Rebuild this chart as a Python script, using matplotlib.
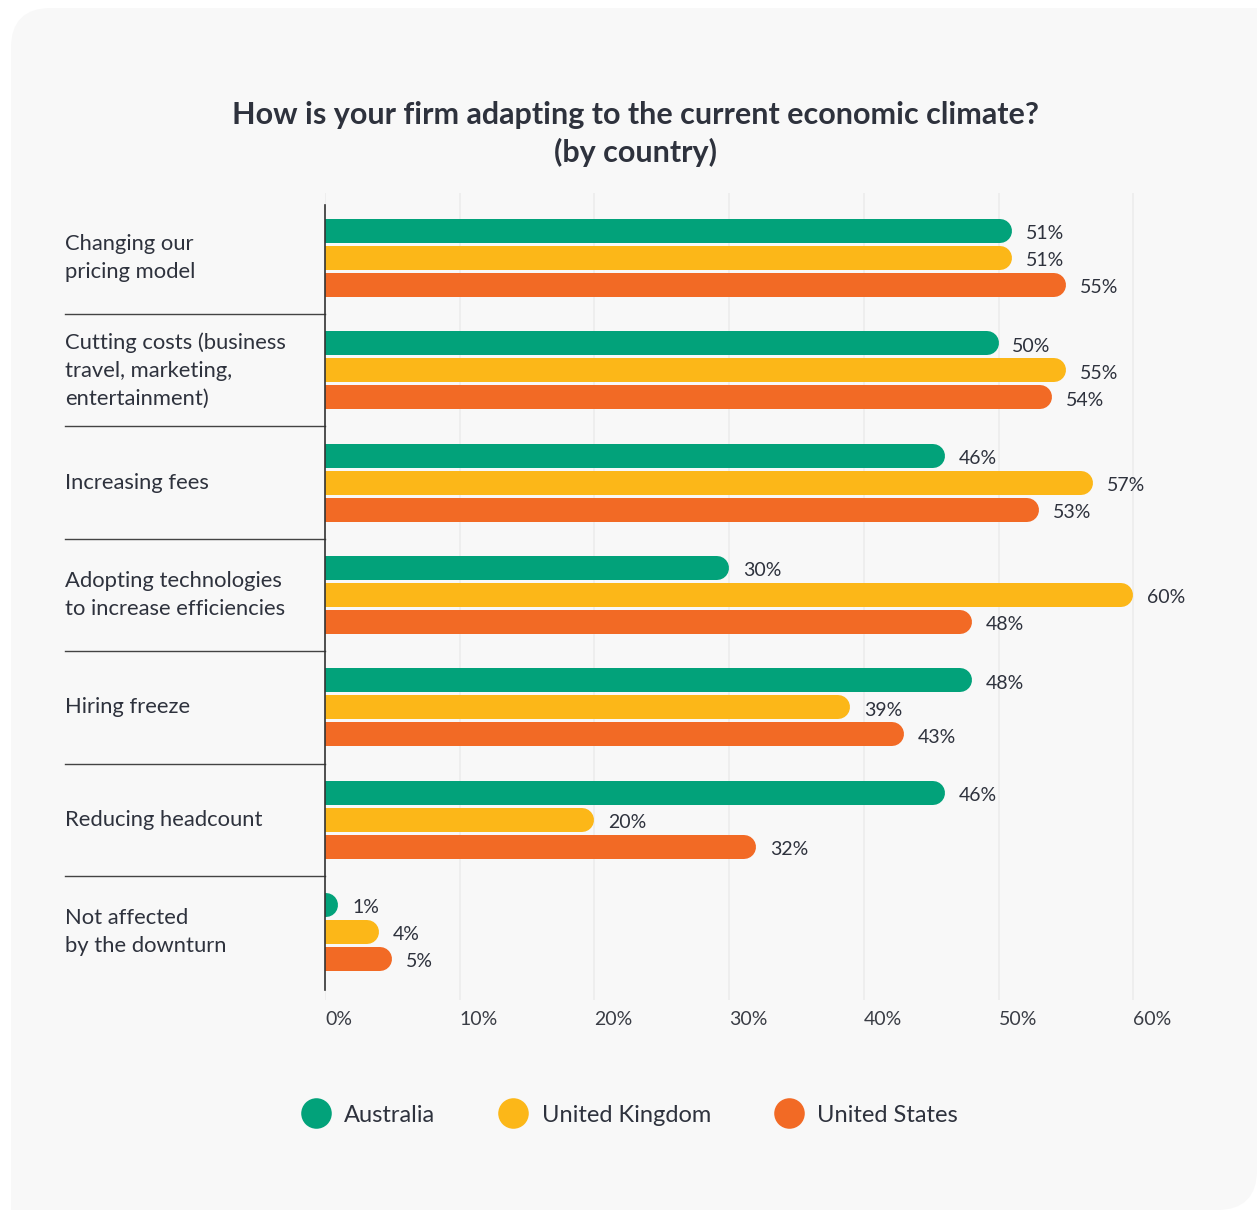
import matplotlib.pyplot as plt
from matplotlib.patches import FancyBboxPatch, Rectangle
from matplotlib.lines import Line2D
import matplotlib.transforms as mtransforms

# data
categories = ['Changing our\npricing model',
              'Cutting costs (business\ntravel, marketing,\nentertainment)',
              'Increasing fees',
              'Adopting technologies\nto increase efficiencies',
              'Hiring freeze',
              'Reducing headcount',
              'Not affected\nby the downturn']
countries = ['Australia', 'United Kingdom', 'United States']
australia = [51, 50, 46, 30, 48, 46, 1]
united_kingdom = [51, 55, 57, 60, 39, 20, 4]
united_states = [55, 54, 53, 48, 43, 32, 5]
xticks = [0, 10, 20, 30, 40, 50, 60]

colors = ['#02a27a', '#fcb718', '#f26a25']
text_col = '#2e323d'

plt.rcParams['font.family'] = ['Lato', 'DejaVu Sans']

W, H = 1257, 1210
fig = plt.figure(figsize=(W / 100, H / 100), dpi=100)
fig.patch.set_facecolor('white')

# background panel in pixel coords: rounded top-left and bottom-right only
panel_col = '#f8f8f8'
px = mtransforms.IdentityTransform()
fig.patches.append(FancyBboxPatch((11, 0), W - 11, H - 8,
                                  boxstyle='round,pad=0,rounding_size=40',
                                  transform=px, fc=panel_col, ec='none', zorder=-10))
fig.patches.append(Rectangle((W - 80, H - 8 - 80), 80, 80, transform=px,
                             fc=panel_col, ec='none', zorder=-10))
fig.patches.append(Rectangle((11, 0), 80, 80, transform=px,
                             fc=panel_col, ec='none', zorder=-10))

# axes: 0% at x=325px, top 193px, bottom 1000px
xmax = 68
ax_left, ax_top, ax_bot = 325, 193, 1000
px_per_unit = 134.7 / 10
ax_w = xmax * px_per_unit
ax = fig.add_axes([ax_left / W, 1 - ax_bot / H, ax_w / W, (ax_bot - ax_top) / H])
ax.set_facecolor('none')

n = len(categories)
ax.set_xlim(0, xmax)
ax.set_ylim(n - 1 + 0.605, -0.578)

for s in ['top', 'right', 'bottom']:
    ax.spines[s].set_visible(False)
ax.spines['left'].set_color('#333333')
ax.spines['left'].set_linewidth(1.2)
ax.spines['left'].set_bounds(-0.467, n - 1 + 0.516)
ax.spines['left'].set_zorder(5)

ax.set_yticks([])
ax.set_xticks(xticks)
ax.set_xticklabels([f'{t}%' for t in xticks], ha='left', fontsize=14, color='#3a3d45')
ax.tick_params(axis='x', length=0, pad=8)
ax.grid(axis='x', color='#ededed', linewidth=1.2, zorder=0)
ax.set_axisbelow(True)

# bars as thick lines with round caps (flat left end hidden by the axis clip)
bar_px = 24
lw = bar_px * 72 / 100
r = (bar_px / 2) / px_per_unit
offset = 27 / 112.4
series = [australia, united_kingdom, united_states]
for j, vals in enumerate(series):
    for i, v in enumerate(vals):
        y = i + (j - 1) * offset
        ax.plot([-10, v - r], [y, y], color=colors[j], lw=lw, solid_capstyle='round', zorder=3)
        ax.annotate(f'{v}%', (v, y), xytext=(10, -2), textcoords='offset points',
                    va='center', ha='left', fontsize=14, color=text_col)

# category labels and separators on the left
trans = mtransforms.blended_transform_factory(fig.transFigure, ax.transData)
for i, c in enumerate(categories):
    ax.text(65 / W, i, c, transform=trans, ha='left', va='center', fontsize=15.8,
            color=text_col, linespacing=1.5)
    if i < n - 1:
        ax.plot([65 / W, 325 / W], [i + 0.5, i + 0.5], transform=trans, color='#444444',
                lw=1.0, clip_on=False)

fig.text(635 / W, 1 - 134 / H, 'How is your firm adapting to the current economic climate?\n(by country)',
         ha='center', va='center', fontsize=22, fontweight='bold', color=text_col, linespacing=1.35)

handles = [Line2D([], [], marker='o', linestyle='none', markersize=22, markerfacecolor=c,
                  markeredgecolor='none') for c in colors]
fig.legend(handles, countries, loc='center', bbox_to_anchor=(625 / W, 1 - 1115 / H), ncol=3,
           frameon=False, fontsize=17, handletextpad=0.2, columnspacing=2.3,
           labelcolor=text_col)

fig.savefig('out.png', dpi=100, facecolor='white')
